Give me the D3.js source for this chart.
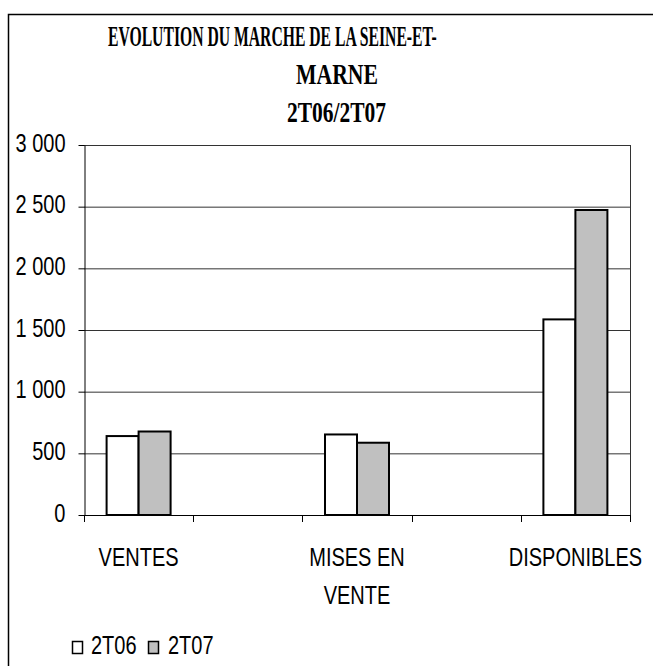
<!DOCTYPE html>
<html>
<head>
<meta charset="utf-8">
<script src="https://cdn.jsdelivr.net/npm/d3@7"></script>
<style>
  body { margin: 0; background: #fff; }
  svg { display: block; }
  .lbl { font-family: "Liberation Sans", Arial, sans-serif; font-size: 25px; fill: #000; }
  .title { font-family: "Liberation Serif", "Times New Roman", serif; font-weight: bold; font-size: 30px; fill: #000; }
</style>
</head>
<body>
<svg id="chart" width="653" height="666"></svg>
<script>
// categories (two empty slots, as in the original sheet)
const categories = ["VENTES", "", "MISES EN VENTE", "", "DISPONIBLES"];
const categoryLines = [["VENTES"], [], ["MISES EN", "VENTE"], [], ["DISPONIBLES"]];
const seriesNames = ["2T06", "2T07"];
const values2T06 = [640, null, 653, null, 1586];
const values2T07 = [677, null, 586, null, 2473];
const yTicks = [0, 500, 1000, 1500, 2000, 2500, 3000];
const titleLines = ["EVOLUTION DU MARCHE DE LA SEINE-ET-", "MARNE", "2T06/2T07"];

const width = 653;
const height = 666;
const svg = d3.select("#chart");

const plot = { left: 84, right: 630, top: 145, bottom: 515 };
const colors = { "2T06": "#ffffff", "2T07": "#c0c0c0" };
const narrow = 0.8; // squeeze to look like Arial Narrow

// squeeze a text node horizontally around its anchor point
function squeeze(sel, sx) {
  sel.each(function () {
    const t = d3.select(this);
    const x = +t.attr("x") || 0;
    const y = +t.attr("y") || 0;
    t.attr("x", 0).attr("y", 0)
      .attr("transform", `translate(${x},${y}) scale(${sx},1)`);
  });
}

// outer frame
svg.append("rect")
  .attr("x", 8.5).attr("y", 14.5)
  .attr("width", width + 20).attr("height", height + 20)
  .attr("fill", "none").attr("stroke", "#000").attr("stroke-width", 1.5);

// title, placed line by line where the original sits
const titlePos = [
  { x: 108, y: 46, w: 329 },
  { x: 296, y: 84, w: 82 },
  { x: 287, y: 122, w: 99 }
];
const titles = svg.selectAll("text.title")
  .data(titleLines)
  .join("text")
  .attr("class", "title")
  .text((d) => d);
titles.each(function (d, i) {
  const w = this.getComputedTextLength();
  const p = titlePos[i];
  d3.select(this).attr("transform", `translate(${p.x},${p.y}) scale(${p.w / w},1)`);
});

const xScale = d3.scaleBand()
  .domain(d3.range(categories.length))
  .range([plot.left, plot.right]);

const yScale = d3.scaleLinear()
  .domain([0, 3000])
  .range([plot.bottom, plot.top]);

const groupW = 64;
const x1 = d3.scaleBand()
  .domain(seriesNames)
  .range([0, groupW]);

// gridlines
svg.append("g")
  .selectAll("line")
  .data(yTicks.filter((d) => d > 0))
  .join("line")
  .attr("x1", plot.left).attr("x2", plot.right)
  .attr("y1", (d) => yScale(d) + 0.5).attr("y2", (d) => yScale(d) + 0.5)
  .attr("stroke", "#333").attr("stroke-width", 1);

// right edge of plot area
svg.append("line")
  .attr("x1", plot.right + 0.5).attr("x2", plot.right + 0.5)
  .attr("y1", plot.top).attr("y2", plot.bottom)
  .attr("stroke", "#333");

// bars
const rows = categories.map((c, i) => ({
  i,
  vals: [
    { s: "2T06", v: values2T06[i] },
    { s: "2T07", v: values2T07[i] }
  ].filter((d) => d.v != null)
}));

const groups = svg.append("g")
  .selectAll("g")
  .data(rows)
  .join("g")
  .attr("transform", (d) => `translate(${xScale(d.i) + (xScale.bandwidth() - groupW) / 2},0)`);

groups.selectAll("rect")
  .data((d) => d.vals)
  .join("rect")
  .attr("x", (d) => x1(d.s))
  .attr("y", (d) => yScale(d.v))
  .attr("width", x1.bandwidth())
  .attr("height", (d) => yScale(0) - yScale(d.v))
  .attr("fill", (d) => colors[d.s])
  .attr("stroke", "#000")
  .attr("stroke-width", 2);

// y axis
const fr = d3.formatLocale({ decimal: ",", thousands: " ", grouping: [3], currency: ["", ""] });
const yAxis = d3.axisLeft(yScale)
  .tickValues(yTicks)
  .tickFormat(fr.format(",d"))
  .tickSizeInner(6)
  .tickSizeOuter(0)
  .tickPadding(13);

const yg = svg.append("g")
  .attr("transform", `translate(${plot.left + 0.5},0)`)
  .call(yAxis);
yg.select(".domain").attr("stroke", "#000");
yg.selectAll(".tick line").attr("stroke", "#000");
yg.selectAll(".tick text")
  .attr("class", "lbl")
  .attr("font-family", null).attr("font-size", null)
  .attr("dy", null)
  .attr("y", 6);
squeeze(yg.selectAll(".tick text"), narrow);

// x axis: baseline and ticks at category boundaries
const xg = svg.append("g");
xg.append("line")
  .attr("x1", plot.left).attr("x2", plot.right + 1)
  .attr("y1", plot.bottom + 0.5).attr("y2", plot.bottom + 0.5)
  .attr("stroke", "#000");
const bounds = d3.range(categories.length + 1).map((i) =>
  i < categories.length ? xScale(i) : plot.right);
xg.selectAll("line.tk")
  .data(bounds)
  .join("line")
  .attr("class", "tk")
  .attr("x1", (d) => Math.round(d) + 0.5).attr("x2", (d) => Math.round(d) + 0.5)
  .attr("y1", plot.bottom).attr("y2", plot.bottom + 7)
  .attr("stroke", "#000");

const catText = xg.selectAll("g.cat")
  .data(categoryLines)
  .join("g")
  .attr("class", "cat")
  .attr("transform", (d, i) => `translate(${xScale(i) + xScale.bandwidth() / 2},566)`);
const catLines = catText.selectAll("text")
  .data((d) => d)
  .join("text")
  .attr("class", "lbl")
  .attr("text-anchor", "middle")
  .attr("y", (d, j) => j * 38)
  .text((d) => d);
squeeze(catLines, narrow);

// legend
const legendPos = [{ bx: 72, tx: 91 }, { bx: 148, tx: 168 }];
const leg = svg.append("g")
  .selectAll("g")
  .data(seriesNames)
  .join("g");
leg.append("rect")
  .attr("x", (d, i) => legendPos[i].bx + 0.5)
  .attr("y", 641.5)
  .attr("width", 10).attr("height", 12)
  .attr("fill", (d) => colors[d])
  .attr("stroke", "#000").attr("stroke-width", 1.5);
const legText = leg.append("text")
  .attr("class", "lbl")
  .attr("x", (d, i) => legendPos[i].tx)
  .attr("y", 654)
  .text((d) => d);
squeeze(legText, narrow);
</script>
</body>
</html>
